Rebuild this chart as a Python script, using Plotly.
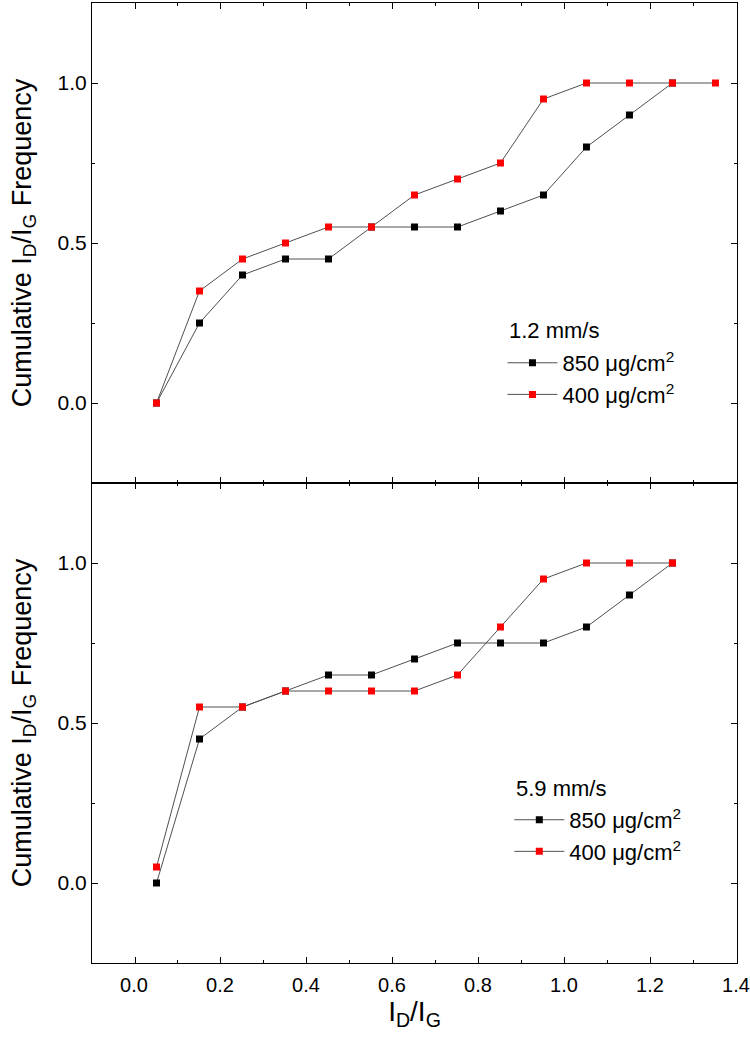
import plotly.graph_objects as go

# ---- data ----
x_vals = [0.05, 0.15, 0.25, 0.35, 0.45, 0.55, 0.65, 0.75, 0.85, 0.95, 1.05, 1.15, 1.25, 1.35]

top_850 = [0.00, 0.25, 0.40, 0.45, 0.45, 0.55, 0.55, 0.55, 0.60, 0.65, 0.80, 0.90, 1.00]
top_400 = [0.00, 0.35, 0.45, 0.50, 0.55, 0.55, 0.65, 0.70, 0.75, 0.95, 1.00, 1.00, 1.00, 1.00]

bot_850 = [0.00, 0.45, 0.55, 0.60, 0.65, 0.65, 0.70, 0.75, 0.75, 0.75, 0.80, 0.90, 1.00]
bot_400 = [0.05, 0.55, 0.55, 0.60, 0.60, 0.60, 0.60, 0.65, 0.80, 0.95, 1.00, 1.00, 1.00]

series_names = ["850 μg/cm<sup>2</sup>", "400 μg/cm<sup>2</sup>"]
series_colors = ["#000000", "#ff0000"]
panel_titles = ["1.2 mm/s", "5.9 mm/s"]

x_ticks = [0.0, 0.2, 0.4, 0.6, 0.8, 1.0, 1.2, 1.4]
y_ticks = [0.0, 0.5, 1.0]

FONT = "Arial, 'Liberation Sans', sans-serif"
LINE_COLOR = "#505050"

fig = go.Figure()

panels = [
    ("x", "y", "legend", [top_850, top_400]),
    ("x2", "y2", "legend2", [bot_850, bot_400]),
]
for pi, (xa, ya, lg, series) in enumerate(panels):
    for si, (name, color, vals) in enumerate(zip(series_names, series_colors, series)):
        fig.add_trace(go.Scatter(
            x=x_vals[:len(vals)], y=vals, name=name, mode="lines+markers",
            xaxis=xa, yaxis=ya, legend=lg, legendgroup=f"g{pi}{si}",
            line=dict(color=LINE_COLOR, width=1),
            marker=dict(symbol="square", size=7, color=color, line=dict(width=0)),
        ))

axis_common = dict(
    showline=True, linecolor="#000000", linewidth=1.2, mirror="ticks",
    ticks="inside", ticklen=6, tickwidth=1.2, tickcolor="#000000",
    showgrid=False, zeroline=False, automargin=False,
    tickfont=dict(family=FONT, size=21, color="#000000"),
)

xaxis_common = dict(axis_common, range=[-0.1, 1.4001], tickvals=x_ticks, tickformat=".1f",
                    tickfont=dict(family=FONT, size=20, color="#000000"),
                    ticklabeloverflow="allow", ticklabelstandoff=4, ticklabelshift=-1,
                    minor=dict(ticks="inside", ticklen=3, tickwidth=1, dtick=0.1, tick0=0,
                               tickcolor="#000000", showgrid=False))
yaxis_common = dict(axis_common, range=[-0.25, 1.25], tickvals=y_ticks, tickformat=".1f",
                    minor=dict(ticks="inside", ticklen=3, tickwidth=1, dtick=0.25, tick0=0,
                               tickcolor="#000000", showgrid=False))

ytitle = dict(text="Cumulative I<sub>D</sub>/I<sub>G</sub> Frequency",
              font=dict(family=FONT, size=27, color="#000000"), standoff=18)

legend_common = dict(xanchor="left", yanchor="top", font=dict(family=FONT, size=22),
                     bgcolor="rgba(0,0,0,0)", itemwidth=50, itemsizing="trace",
                     tracegroupgap=0)

fig.update_layout(
    width=750, height=1045,
    margin=dict(l=92, r=13, t=3, b=82, autoexpand=False),
    paper_bgcolor="white", plot_bgcolor="white",
    font=dict(family=FONT, color="#000000"),
    xaxis=dict(xaxis_common, anchor="y", domain=[0, 1], showticklabels=False),
    yaxis=dict(yaxis_common, anchor="x", domain=[0.5, 1], title=ytitle),
    xaxis2=dict(xaxis_common, anchor="y2", domain=[0, 1],
                title=dict(text="I<sub>D</sub>/I<sub>G</sub>",
                           font=dict(family=FONT, size=28, color="#000000"), standoff=4)),
    yaxis2=dict(yaxis_common, anchor="x2", domain=[0, 0.5], title=ytitle),
    legend=dict(legend_common, x=0.6364, y=0.6469),
    legend2=dict(legend_common, x=0.647, y=0.1709),
    annotations=[
        dict(text=panel_titles[0], xref="paper", yref="paper", x=0.644, y=0.659,
             xanchor="left", yanchor="middle", showarrow=False,
             font=dict(family=FONT, size=22, color="#000000")),
        dict(text=panel_titles[1], xref="paper", yref="paper", x=0.655, y=0.182,
             xanchor="left", yanchor="middle", showarrow=False,
             font=dict(family=FONT, size=22, color="#000000")),
    ],
)

fig.write_html("out.html", config={"displayModeBar": False},
               post_script="document.body.style.margin='0';document.body.style.padding='0';")
